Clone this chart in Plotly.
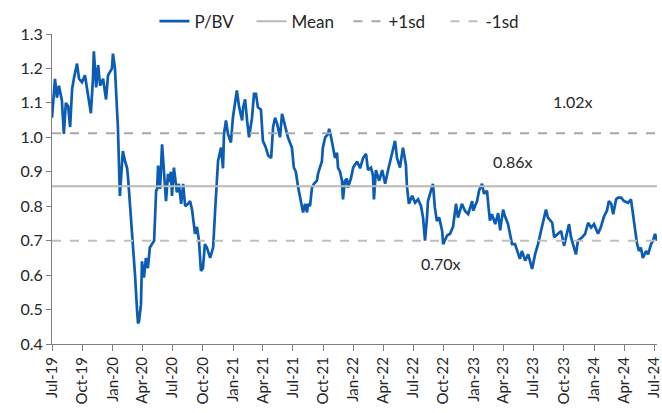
import pandas as pd
import plotly.graph_objects as go

START = "2019-07-01"
# observation dates expressed as days after START
day_offsets = [
    0, 9, 15, 21, 30, 36, 42, 49, 55, 61, 67, 76, 82, 91, 100, 106, 118, 124, 127, 134,
    140, 146, 155, 164, 170, 182, 185, 191, 197, 200, 206, 212, 215, 222, 228, 231, 237, 240, 246, 252,
    258, 261, 264, 270, 273, 279, 285, 291, 297, 304, 310, 316, 319, 322, 328, 334, 340, 346, 352, 355,
    361, 364, 370, 379, 385, 392, 398, 404, 413, 419, 425, 428, 434, 440, 446, 452, 458, 464, 470, 480,
    489, 495, 501, 504, 513, 519, 522, 528, 534, 543, 549, 555, 561, 568, 577, 580, 586, 592, 598, 607,
    613, 619, 625, 634, 640, 649, 656, 665, 671, 677, 683, 692, 698, 701, 710, 716, 722, 728, 734, 740,
    747, 753, 759, 762, 768, 774, 777, 783, 789, 795, 804, 807, 813, 819, 822, 829, 838, 841, 847, 853,
    859, 865, 868, 874, 880, 883, 889, 895, 898, 907, 914, 926, 935, 944, 953, 959, 968, 974, 977, 983,
    993, 1002, 1011, 1020, 1032, 1041, 1047, 1056, 1065, 1074, 1077, 1083, 1093, 1102, 1111, 1120, 1126, 1132, 1138, 1141,
    1150, 1156, 1162, 1168, 1175, 1184, 1187, 1199, 1208, 1217, 1226, 1232, 1244, 1253, 1263, 1275, 1278, 1290, 1296, 1305,
    1311, 1320, 1323, 1329, 1335, 1345, 1354, 1360, 1369, 1375, 1384, 1390, 1396, 1405, 1414, 1420, 1426, 1436, 1445, 1451,
    1457, 1466, 1475, 1484, 1490, 1499, 1505, 1518, 1524, 1536, 1545, 1554, 1563, 1569, 1575, 1581, 1590, 1596, 1609, 1618,
    1627, 1636, 1645, 1657, 1666, 1675, 1684, 1690, 1697, 1703, 1712, 1718, 1727, 1736, 1748, 1757, 1763, 1769, 1775, 1781,
    1787, 1793, 1803, 1809, 1818, 1824, 1830, 1836,
]
pbv = [
    1.057, 1.17, 1.115, 1.15, 1.107, 1.01, 1.10, 1.09, 1.03, 1.14, 1.174, 1.214, 1.17, 1.16, 1.18, 1.145, 1.07, 1.165, 1.25, 1.145,
    1.21, 1.15, 1.17, 1.11, 1.18, 1.20, 1.243, 1.20, 1.07, 1.03, 0.83, 0.912, 0.96, 0.93, 0.91, 0.88, 0.80, 0.76, 0.70, 0.60,
    0.50, 0.46, 0.465, 0.515, 0.64, 0.593, 0.65, 0.62, 0.68, 0.69, 0.70, 0.845, 0.85, 0.918, 0.85, 0.98, 0.894, 0.815, 0.894, 0.87,
    0.90, 0.83, 0.912, 0.84, 0.865, 0.807, 0.865, 0.80, 0.807, 0.815, 0.79, 0.76, 0.72, 0.74, 0.70, 0.612, 0.62, 0.69, 0.68, 0.65,
    0.68, 0.787, 0.874, 0.932, 0.97, 0.91, 1.01, 1.049, 1.01, 0.985, 1.057, 1.092, 1.136, 1.087, 1.049, 1.087, 1.11, 1.049, 1.00, 1.057,
    1.126, 1.126, 1.087, 1.08, 0.99, 0.97, 0.947, 0.94, 1.03, 1.057, 1.04, 1.00, 1.068, 1.057, 1.02, 1.00, 0.985, 0.97, 0.912, 0.90,
    0.854, 0.825, 0.80, 0.782, 0.807, 0.782, 0.807, 0.80, 0.854, 0.865, 0.874, 0.893, 0.912, 0.93, 0.97, 1.00, 1.01, 1.025, 1.00, 0.97,
    0.94, 0.955, 0.912, 0.90, 0.874, 0.82, 0.874, 0.88, 0.854, 0.88, 0.912, 0.93, 0.91, 0.94, 0.952, 0.905, 0.912, 0.89, 0.82, 0.905,
    0.874, 0.905, 0.865, 0.905, 0.952, 0.99, 0.94, 0.912, 0.97, 0.92, 0.86, 0.807, 0.83, 0.81, 0.82, 0.80, 0.767, 0.70, 0.767, 0.815,
    0.845, 0.865, 0.795, 0.757, 0.767, 0.728, 0.69, 0.715, 0.72, 0.74, 0.807, 0.767, 0.807, 0.787, 0.777, 0.815, 0.787, 0.815, 0.845, 0.865,
    0.836, 0.845, 0.815, 0.758, 0.777, 0.748, 0.78, 0.73, 0.79, 0.77, 0.748, 0.72, 0.69, 0.69, 0.66, 0.647, 0.67, 0.642, 0.66, 0.642,
    0.618, 0.66, 0.69, 0.728, 0.757, 0.79, 0.767, 0.752, 0.71, 0.72, 0.728, 0.685, 0.728, 0.748, 0.71, 0.69, 0.66, 0.70, 0.71, 0.72,
    0.752, 0.738, 0.748, 0.72, 0.74, 0.77, 0.787, 0.815, 0.807, 0.777, 0.82, 0.825, 0.825, 0.815, 0.81, 0.82, 0.777, 0.74, 0.694, 0.67,
    0.68, 0.65, 0.67, 0.66, 0.69, 0.70, 0.72, 0.70,
]

MEAN = 0.858
PLUS_1SD = 1.012
MINUS_1SD = 0.700
labels = ["1.02x", "0.86x", "0.70x"]
label_values = [1.104, 0.929, 0.633]
label_offsets = [1581, 1399, 1181]

X_END = "2024-07-10"

dates = pd.Timestamp(START) + pd.to_timedelta(day_offsets, unit="D")
span = [pd.Timestamp(START), pd.Timestamp(X_END)]

BLUE = "#0a5cb4"
MEAN_C = "#bdb8b3"
SD_UP_C = "#a8a8a8"
SD_DN_C = "#c2beb9"
FONT = "Lato"
TXT = "#262626"

fig = go.Figure()
fig.add_trace(go.Scatter(x=dates, y=pbv, mode="lines", name="P/BV",
                         line=dict(color=BLUE, width=2.7)))
fig.add_trace(go.Scatter(x=span, y=[MEAN, MEAN], mode="lines", name="Mean",
                         line=dict(color=MEAN_C, width=2)))
fig.add_trace(go.Scatter(x=span, y=[PLUS_1SD, PLUS_1SD], mode="lines", name="+1sd",
                         line=dict(color=SD_UP_C, width=2, dash="dash")))
fig.add_trace(go.Scatter(x=span, y=[MINUS_1SD, MINUS_1SD], mode="lines", name="-1sd",
                         line=dict(color=SD_DN_C, width=2, dash="dash")))

for t, v, o in zip(labels, label_values, label_offsets):
    fig.add_annotation(x=pd.Timestamp(START) + pd.Timedelta(days=o), y=v, text=t,
                       showarrow=False, font=dict(family=FONT, size=16, color=TXT))

fig.update_layout(
    width=662, height=413,
    margin=dict(l=52, r=5, t=34, b=69, autoexpand=False),
    paper_bgcolor="white", plot_bgcolor="white",
    font=dict(family=FONT, size=16, color=TXT),
    showlegend=True,
    legend=dict(orientation="h", x=0.49, xanchor="center", y=1.04, yanchor="middle",
                font=dict(family=FONT, size=17, color=TXT), bgcolor="rgba(0,0,0,0)",
                entrywidth=52, entrywidthmode="pixels"),
)
fig.update_xaxes(
    type="date", range=span, tick0=START, dtick="M3", tickformat="%b-%y",
    tickangle=-90, showgrid=False, zeroline=False, automargin=False,
    showline=True, linecolor="#7f7f7f", linewidth=1,
    ticks="outside", ticklen=6, tickcolor="#7f7f7f",
    tickfont=dict(family=FONT, size=15, color=TXT),
)
fig.update_yaxes(
    range=[0.4, 1.3], tick0=0.4, dtick=0.1, tickformat=".1f",
    showgrid=False, zeroline=False, automargin=False,
    showline=True, linecolor="#7f7f7f", linewidth=1,
    ticks="outside", ticklen=5, tickcolor="#7f7f7f",
    tickfont=dict(family=FONT, size=16, color=TXT),
)

fig.write_html("out.html", config={"displayModeBar": False},
               post_script="document.body.style.margin='0';")
